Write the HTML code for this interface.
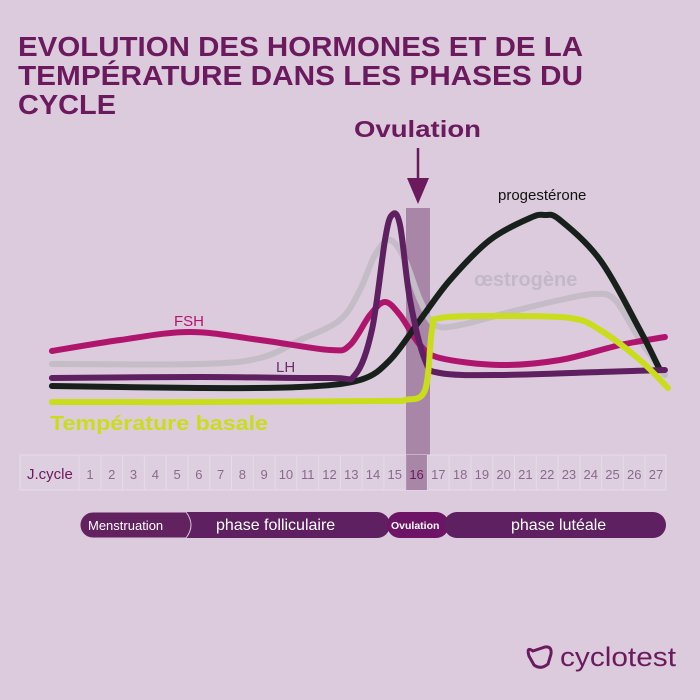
<!DOCTYPE html>
<html><head><meta charset="utf-8"><style>
html,body{margin:0;padding:0;background:#dccbdc;}
svg{display:block;font-family:"Liberation Sans",sans-serif;}
</style></head><body>
<svg id="chart" width="700" height="700" viewBox="0 0 700 700">
<rect width="700" height="700" fill="#dccbdc"/>
<g fill="#6b1a5e" font-weight="bold" font-size="28">
<text x="18" y="56" textLength="565" lengthAdjust="spacingAndGlyphs">EVOLUTION DES HORMONES ET DE LA</text>
<text x="18" y="85" textLength="565" lengthAdjust="spacingAndGlyphs">TEMPÉRATURE DANS LES PHASES DU</text>
<text x="18" y="114" textLength="98" lengthAdjust="spacingAndGlyphs">CYCLE</text>
</g>
<rect x="406" y="208" width="24" height="281" fill="#a886a8"/>
<text x="354" y="137" font-size="23" font-weight="bold" fill="#6b1a5e" textLength="127" lengthAdjust="spacingAndGlyphs">Ovulation</text>
<line x1="418" y1="148" x2="418" y2="182" stroke="#6b1a5e" stroke-width="2.5"/>
<polygon points="407,178 429,178 418,204" fill="#6b1a5e"/>
<g id="curves"></g>
<text x="174" y="326" font-size="15" fill="#b0156e">FSH</text>
<text x="276" y="372" font-size="15" fill="#6b2f6e">LH</text>
<text x="498" y="200" font-size="15" fill="#111">progestérone</text>
<text x="474" y="286" font-size="20" font-weight="bold" fill="#c3b9c6">œstrogène</text>
<text x="50" y="430" font-size="20" font-weight="bold" fill="#c9dd1d" textLength="218" lengthAdjust="spacingAndGlyphs">Température basale</text>
<g id="axis">
<rect x="20" y="455" width="646" height="35" fill="#ddcfe0" stroke="#e6dbe7" stroke-width="1"/>
<text x="27" y="479" font-size="15" fill="#6b1a5e">J.cycle</text>
</g>
<g>
<rect x="80" y="512" width="310" height="26" rx="13" fill="#5e2060"/>
<path d="M93,512 H186 Q196,525 186,538 H93 A13,13 0 0 1 93,512 Z" fill="#62215f" stroke="#d9c8dc" stroke-width="1"/>
<rect x="387" y="512" width="62" height="26" rx="13" fill="#6e1466"/>
<rect x="444" y="512" width="222" height="26" rx="13" fill="#5e2060"/>
<text x="88" y="530" font-size="13" fill="#fff">Menstruation</text>
<text x="216" y="530" font-size="16" fill="#fff">phase folliculaire</text>
<text x="391" y="529" font-size="10.5" font-weight="bold" fill="#fff">Ovulation</text>
<text x="511" y="530" font-size="16" fill="#fff">phase lutéale</text>
</g>
<g>
<path d="M533,651 Q526,646 529,656 L534,665 Q541,670 548,664 L551,654 Q552,646 545,647 Z" fill="none" stroke="#6b1a5e" stroke-width="3"/>
<text x="560" y="666" font-size="27" fill="#6b1a5e" textLength="116" lengthAdjust="spacingAndGlyphs">cyclotest</text>
</g>
</svg>
<script>
const days = [1,2,3,4,5,6,7,8,9,10,11,12,13,14,15,16,17,18,19,20,21,22,23,24,25,26,27];
const fshDays = [-0.75,2.38,5.59,8.81,12.02,12.94,13.86,14.55,15.24,16.16,17.08,19.83,22.59,25.35,27.41];
const fshValues = [29.5,35,39,35,30,32.5,47.5,54,47.5,32.5,26,22.5,25,32.5,36.5];
const lhDays = [-0.75,6.05,12.02,13.17,13.95,14.55,14.87,15.24,15.70,16.39,17.08,19.83,24.43,27.41];
const lhValues = [16,16.5,16,17.5,40,85,97.5,92.5,55,25,18.5,17.5,19,20];
const progDays = [-0.75,6.05,10.65,13.40,14.78,16.16,17.54,19.37,21.21,21.90,22.59,24.43,26.26,27.18];
const progValues = [12,11,11.5,15,25,45,65,85,96,97.5,95,75,40,20];
const oestDays = [-0.75,6.05,8.81,10.65,12.48,13.40,14.09,14.78,15.47,16.16,16.85,18.0,20.29,22.59,24.2,25.12,26.26,27.41];
const oestValues = [23,23,26,35,45,60,77.5,85,75,55,42.5,42.5,49,55,58,55,35,17.5];
const tempDays = [-0.75,6.05,14.32,15.47,16.39,16.71,17.08,19.83,23.05,24.43,26.26,27.55];
const tempValues = [4,4,4.5,5,10,40,46,47,46,40,25,11];

const NS = "http://www.w3.org/2000/svg";
function xScale(d){ return 90 + (d-1)*21.77; }
function yScale(v){ return 410 - v*2; }
function smoothPath(ds, vs){
  const p = ds.map((d,i)=>[xScale(d), yScale(vs[i])]);
  let s = "M"+p[0][0]+","+p[0][1];
  for(let i=0;i<p.length-1;i++){
    const p0=p[Math.max(0,i-1)], p1=p[i], p2=p[i+1], p3=p[Math.min(p.length-1,i+2)];
    const c1=[p1[0]+(p2[0]-p0[0])/6, p1[1]+(p2[1]-p0[1])/6];
    const c2=[p2[0]-(p3[0]-p1[0])/6, p2[1]-(p3[1]-p1[1])/6];
    s += " C"+c1[0]+","+c1[1]+" "+c2[0]+","+c2[1]+" "+p2[0]+","+p2[1];
  }
  return s;
}
const g = document.getElementById("curves");
function addLine(ds, vs, color, name){
  const el = document.createElementNS(NS,"path");
  el.setAttribute("d", smoothPath(ds,vs));
  el.setAttribute("fill","none");
  el.setAttribute("stroke",color);
  el.setAttribute("stroke-width","6");
  el.setAttribute("stroke-linecap","round");
  el.setAttribute("stroke-linejoin","round");
  
  
  g.appendChild(el);
}
addLine(oestDays, oestValues, "#c4bcc6", "oestrogen-line");
addLine(fshDays, fshValues, "#b0156e", "fsh-line");
addLine(progDays, progValues, "#17201b", "progesterone-line");
addLine(lhDays, lhValues, "#5e2060", "lh-line");
addLine(tempDays, tempValues, "#c9dd1d", "temperature-line");

const ax = document.getElementById("axis");
days.forEach((d)=>{
  const cx = xScale(d);
  const ln = document.createElementNS(NS,"line");
  ln.setAttribute("x1", cx-10.9); ln.setAttribute("x2", cx-10.9);
  ln.setAttribute("y1", 455); ln.setAttribute("y2", 490);
  ln.setAttribute("stroke", "#e6dbe7");
  
  
  ax.appendChild(ln);
  const t = document.createElementNS(NS,"text");
  t.setAttribute("x", cx); t.setAttribute("y", 479);
  t.setAttribute("text-anchor","middle");
  t.setAttribute("font-size","13");
  t.setAttribute("fill", d===16 ? "#6b1a5e" : "#8a6a8c");
  t.textContent = d;
  
  
  ax.appendChild(t);
});
const band = document.createElementNS(NS,"rect");
band.setAttribute("x", xScale(16)-11.5); band.setAttribute("y", 455);
band.setAttribute("width", 23); band.setAttribute("height", 35);
band.setAttribute("fill", "#a886a8");


ax.insertBefore(band, ax.children[1]);
</script>
</body></html>
